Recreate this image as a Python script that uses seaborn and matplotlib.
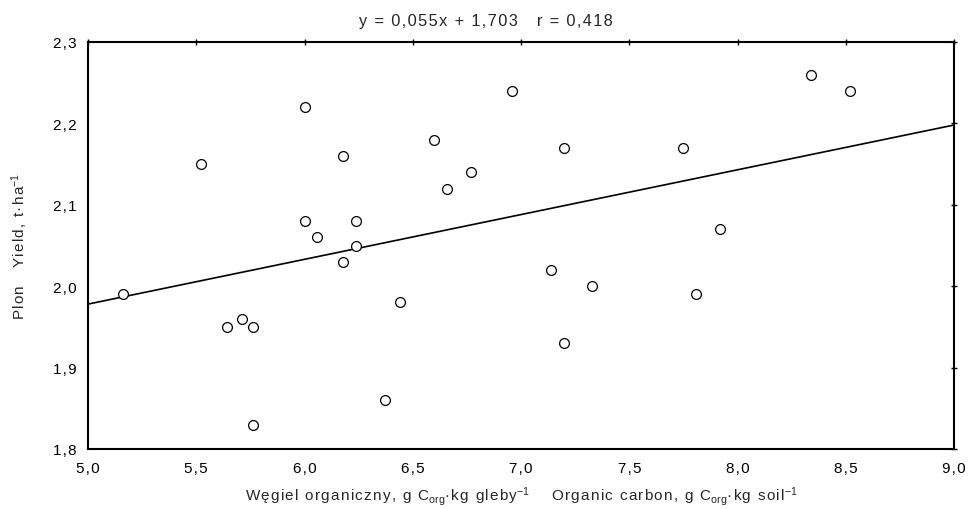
import numpy as np
import pandas as pd
import matplotlib
matplotlib.use("Agg")
import matplotlib.pyplot as plt
import seaborn as sns

# Data
carbon = [5.52, 6.00, 6.18, 6.60, 6.77, 6.66, 6.00, 6.06, 6.24, 6.24,
          6.96, 7.20, 7.75, 7.92, 8.34, 8.52,
          5.16, 6.18, 5.64, 5.71, 5.76, 6.44, 6.37, 5.76,
          7.14, 7.33, 7.81, 7.20]
yield_ = [2.15, 2.22, 2.16, 2.18, 2.14, 2.12, 2.08, 2.06, 2.08, 2.05,
          2.24, 2.17, 2.17, 2.07, 2.26, 2.24,
          1.99, 2.03, 1.95, 1.96, 1.95, 1.98, 1.86, 1.83,
          2.02, 2.00, 1.99, 1.93]
slope = 0.055
intercept = 1.703
x_ticks = [5.0, 5.5, 6.0, 6.5, 7.0, 7.5, 8.0, 8.5, 9.0]
y_ticks = [1.8, 1.9, 2.0, 2.1, 2.2, 2.3]
x_tick_labels = ["5,0", "5,5", "6,0", "6,5", "7,0", "7,5", "8,0", "8,5", "9,0"]
y_tick_labels = ["1,8", "1,9", "2,0", "2,1", "2,2", "2,3"]
title = "y = 0,055x + 1,703   r = 0,418"

HS = "\u200a"  # hair space used for letter tracking


def track(s):
    """Insert hair spaces between characters outside of $...$ math segments."""
    parts = s.split("$")
    out = []
    for i, p in enumerate(parts):
        if i % 2 == 0:
            out.append(HS.join(p))
        else:
            out.append("$" + p + "$")
    return "".join(out)


sns.set_theme(style="white")
plt.rcParams['font.family'] = ['Liberation Sans', 'DejaVu Sans']
plt.rcParams['mathtext.fontset'] = 'custom'
plt.rcParams['mathtext.rm'] = 'Liberation Sans'
plt.rcParams['mathtext.it'] = 'Liberation Sans'
plt.rcParams['mathtext.default'] = 'regular'

df = pd.DataFrame({"carbon": carbon, "yield": yield_})
line_x = np.array([x_ticks[0], x_ticks[-1]])
line_df = pd.DataFrame({"x": line_x, "y": slope * line_x + intercept})

fig = plt.figure(figsize=(9.73, 5.10), dpi=100)
ax = fig.add_axes([88/973, 1 - 450/510, (954 - 88)/973, (450 - 43)/510])

sns.lineplot(data=line_df, x="x", y="y", ax=ax, color="black", linewidth=1.2)
sns.scatterplot(data=df, x="carbon", y="yield", ax=ax, marker="o",
                facecolor="white", edgecolor="black", linewidth=0.9, s=50, zorder=3)

ax.set_xlim(5.0, 9.0)
ax.set_ylim(1.8, 2.3)
ax.set_xticks(x_ticks)
ax.set_xticklabels([track(t) for t in x_tick_labels])
ax.set_yticks(y_ticks)
ax.set_yticklabels([track(t) for t in y_tick_labels])
ax.tick_params(axis="both", which="both", direction="inout", length=5, width=1,
               colors="black", labelsize=11, top=True, right=True,
               labeltop=False, labelright=False, pad=6)
for sp in ax.spines.values():
    sp.set_visible(True)
    sp.set_color("black")
    sp.set_linewidth(1.5)

t = ax.set_title(track(title), fontsize=11.8, pad=12)
t.set_x(0.46)
xlabel = r"Węgiel organiczny, g C$_{org}$·kg gleby$^{-1}$    Organic carbon, g C$_{org}$·kg soil$^{-1}$"
ax.set_xlabel(track(xlabel), fontsize=11, labelpad=7)
ax.set_ylabel(track(r"Plon   Yield, t·ha$^{-1}$"), fontsize=11, labelpad=16)

fig.savefig("out.png", dpi=100)
